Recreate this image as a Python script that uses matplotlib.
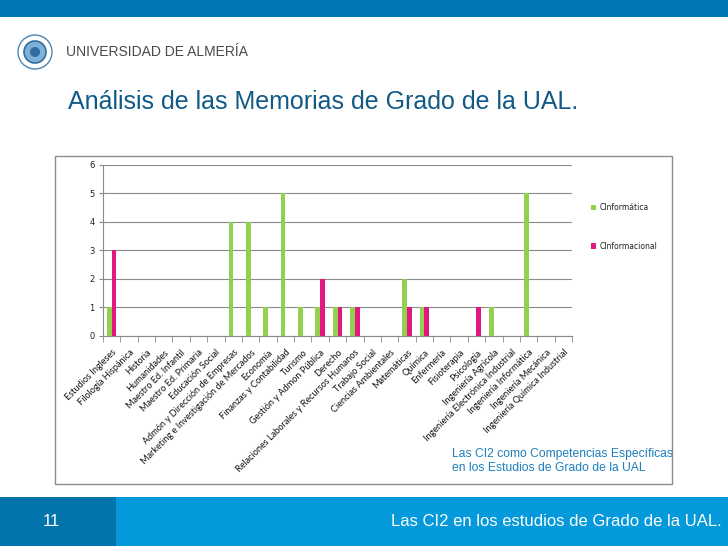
import numpy as np
import matplotlib
matplotlib.use("Agg")
import matplotlib.pyplot as plt
from matplotlib.patches import Rectangle, Circle

# data
grados = [
    "Estudios Ingleses", "Filología Hispánica", "Historia", "Humanidades",
    "Maestro Ed. Infantil", "Maestro Ed. Primaria", "Educación Social",
    "Admón y Dirección de Empresas", "Marketing e Investigación de Mercados",
    "Economía", "Finanzas y Contabilidad", "Turismo", "Gestión y Admon Pública",
    "Derecho", "Relaciones Laborales y Recursos Humanos", "Trabajo Social",
    "Ciencias Ambientales", "Matemáticas", "Química", "Enfermería",
    "Fisioterapia", "Psicología", "Ingeniería Agrícola",
    "Ingeniería Electrónica Industrial", "Ingeniería Informática",
    "Ingeniería Mecánica", "Ingeniería Química Industrial",
]
c_informatica = [1, 0, 0, 0, 0, 0, 0, 4, 4, 1, 5, 1, 1, 1, 1, 0, 0, 2, 1, 0, 0, 0, 1, 0, 5, 0, 0]
c_informacional = [3, 0, 0, 0, 0, 0, 0, 0, 0, 0, 0, 0, 2, 1, 1, 0, 0, 1, 1, 0, 0, 1, 0, 0, 0, 0, 0]
series_names = ["CInformática", "CInformacional"]
y_ticks = [0, 1, 2, 3, 4, 5, 6]

GREEN = "#92D050"
PINK = "#E2177F"
GRID = "#8A8A8A"
TITLE = "#125A86"
NOTE = "#1D80BC"
BAND = "#0277B3"
FOOT_DARK = "#0373AC"
FOOT_LIGHT = "#0399DA"

W, H = 728, 546
fig = plt.figure(figsize=(W / 100, H / 100), dpi=100)
fig.patch.set_facecolor("white")

# slide decoration layer in pixel coordinates
deco = fig.add_axes([0, 0, 1, 1], zorder=0)
deco.set_xlim(0, W)
deco.set_ylim(H, 0)
deco.axis("off")

deco.add_patch(Rectangle((0, 0), W, 17, color=BAND, lw=0))
deco.add_patch(Rectangle((0, 497), W, H - 497, color=FOOT_LIGHT, lw=0))
deco.add_patch(Rectangle((0, 497), 116, H - 497, color=FOOT_DARK, lw=0))
deco.add_patch(Rectangle((55, 156), 617, 328, fill=False, ec="#8C8C8C", lw=1.0))

# logo
deco.add_patch(Circle((35, 52), 17, fc="white", ec="#4C86B5", lw=1.0))
deco.add_patch(Circle((35, 52), 11, fc="#7FB2D8", ec="#2F6E9E", lw=1.2))
deco.add_patch(Circle((35, 52), 5, fc="#2F6E9E", ec="none"))

deco.text(66, 52, "UNIVERSIDAD DE ALMERÍA", fontsize=10, color="#4A4A4A",
          family="Liberation Sans", va="center", ha="left")
deco.text(68, 102, "Análisis de las Memorias de Grado de la UAL.", fontsize=18,
          color=TITLE, family="Liberation Sans", va="center", ha="left")
deco.text(452, 454, "Las CI2 como Competencias Específicas", fontsize=8.7,
          color=NOTE, family="Liberation Sans", va="center", ha="left")
deco.text(452, 468, "en los Estudios de Grado de la UAL", fontsize=8.7,
          color=NOTE, family="Liberation Sans", va="center", ha="left")
deco.text(51, 522, "11", fontsize=12, color="white", family="Liberation Sans",
          va="center", ha="center")
deco.text(722, 522, "Las CI2 en los estudios de Grado de la UAL.", fontsize=12,
          color="white", family="Liberation Sans", va="center", ha="right")

# chart
left, right, top, bottom = 103.0, 572.0, 165.0, 335.5
ax = fig.add_axes([left / W, 1 - bottom / H, (right - left) / W, (bottom - top) / H], zorder=1)
ax.patch.set_alpha(0)

x = np.arange(len(grados))
bw = 0.27
ax.bar(x - bw / 2, c_informatica, width=bw, color=GREEN, zorder=3, label=series_names[0])
ax.bar(x + bw / 2, c_informacional, width=bw, color=PINK, zorder=3, label=series_names[1])

ax.set_xlim(-0.5, len(grados) - 0.5)
ax.set_ylim(0, 6)
ax.set_yticks(y_ticks)
ax.grid(axis="y", color=GRID, lw=0.8, zorder=0)
ax.tick_params(axis="y", length=3, color=GRID, labelsize=6, labelcolor="#222222", pad=3)

ax.set_xticks(x)
ax.set_xticklabels(grados, rotation=45, ha="right", rotation_mode="anchor",
                   fontsize=6.6, family="Lato", color="#111111")
ax.set_xticks(np.arange(len(grados) + 1) - 0.5, minor=True)
ax.tick_params(axis="x", which="major", length=0, pad=9)
ax.tick_params(axis="x", which="minor", length=4, color=GRID)

for side in ["top", "right"]:
    ax.spines[side].set_visible(False)
for side in ["left", "bottom"]:
    ax.spines[side].set_color(GRID)
    ax.spines[side].set_linewidth(0.8)

leg = fig.legend(loc="upper left", bbox_to_anchor=(584 / W, 1 - 196 / H),
                 frameon=False, fontsize=5.5, handlelength=0.7, handleheight=0.7,
                 handletextpad=0.4, labelspacing=3.9)
for t in leg.get_texts():
    t.set_color("#222222")

fig.savefig("out.png", dpi=100, facecolor="white")
